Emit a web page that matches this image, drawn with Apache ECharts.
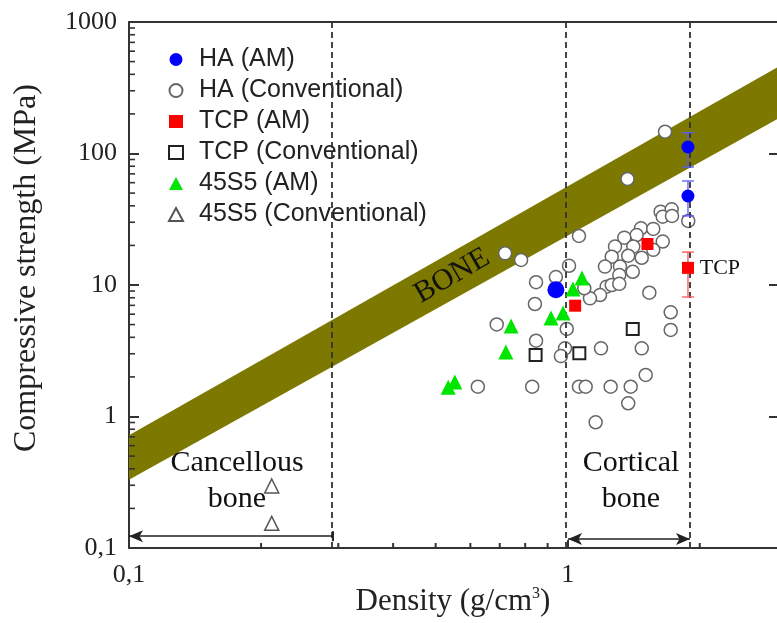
<!DOCTYPE html>
<html>
<head>
<meta charset="utf-8">
<script src="https://cdn.jsdelivr.net/npm/echarts@6/dist/echarts.min.js"></script>
<style>
  html, body { margin: 0; padding: 0; background: #fff; }
  #main { width: 777px; height: 623px; }
</style>
</head>
<body>
<div id="main"></div>
<script>
// axis ranges
var xMin = 0.1, xMax = 3, yMin = 0.1, yMax = 1000;
var tickMultipliers = [2, 3, 4, 5, 6, 7, 8, 9];
var xDecades = [0.1, 1];
var yDecades = [0.1, 1, 10, 100];

// data [density, strength]
var haAM = [[1.88, 112], [1.88, 47.5], [0.94, 9.2]];
var haAMErr = [[1.88, 78.9, 144], [1.88, 33.5, 61.8]];
var haConv = [
    [1.667, 146.5], [1.369, 64.0], [0.720, 17.4], [0.783, 15.5], [1.061, 23.6],
    [1.883, 30.7], [1.629, 36.1], [1.726, 37.6], [1.647, 33.1], [1.729, 33.5],
    [1.469, 27.0], [1.567, 26.7], [1.436, 24.0], [1.346, 22.9], [1.282, 19.6],
    [1.411, 19.6], [1.647, 21.4], [1.567, 18.5], [1.260, 16.4], [1.374, 16.7],
    [1.475, 16.1], [1.216, 13.8], [1.316, 13.8], [1.407, 12.6], [1.311, 11.9],
    [1.007, 14.0], [0.940, 11.5], [0.847, 10.5], [0.842, 7.17], [1.535, 8.74],
    [1.227, 9.71], [1.185, 8.39], [1.124, 7.92], [1.091, 9.44], [1.260, 10.0],
    [1.311, 10.2], [0.689, 5.01], [0.847, 3.77], [0.995, 4.63], [0.986, 3.30],
    [0.965, 2.88], [1.191, 3.30], [1.475, 3.30], [1.717, 6.20], [1.717, 4.55],
    [1.506, 2.07], [0.624, 1.685], [0.830, 1.685], [1.061, 1.685], [1.099, 1.685],
    [1.253, 1.685], [1.392, 1.685], [1.374, 1.26], [1.158, 0.904]
];
var tcpAM = [[1.04, 6.96], [1.52, 20.5], [1.88, 13.5]];
var tcpAMErr = [[1.88, 8.1, 17.8]];
var tcpConv = [[0.845, 2.94], [1.063, 3.03], [1.407, 4.63]];
var bgAM = [
    [1.078, 11.3], [1.028, 9.33], [0.976, 6.12], [0.916, 5.61],
    [0.743, 4.88], [0.723, 3.09], [0.553, 1.83], [0.534, 1.67]
];
var bgConv = [[0.2115, 0.296], [0.2115, 0.154]];

// bone band edges
var boneX = [0.1, 3];
var boneTop = [0.72, 450];
var boneBottom = [0.33, 182];

// density limits and region arrows
var regionLimits = [0.2917, 0.99, 1.9];
var arrowY = [0.123, 0.117];

// text annotations
var annoText = ['BONE', 'Cancellous\nbone', 'Cortical\nbone', 'TCP'];
var annoX = [0.545, 0.1763, 1.394, 2.0];
var annoY = [11.7, 0.32, 0.32, 13.4];

var serif = 'Liberation Serif';
var sans = 'Liberation Sans';

var xMinor = [], yMinor = [];
xDecades.forEach(function (d) {
    tickMultipliers.forEach(function (m) {
        if (d * m < xMax) xMinor.push([d * m, yMin]);
    });
});
yDecades.forEach(function (d) {
    tickMultipliers.forEach(function (m) { yMinor.push([xMin, d * m]); });
});

function fmt(v) { return String(+v.toPrecision(6)).replace('.', ','); }

function errRender(color) {
    return function (params, api) {
        var p1 = api.coord([api.value(0), api.value(1)]);
        var p2 = api.coord([api.value(0), api.value(2)]);
        var w = 6;
        var st = { stroke: color, lineWidth: 1.3 };
        return {
            type: 'group',
            children: [
                { type: 'line', shape: { x1: p1[0], y1: p1[1], x2: p2[0], y2: p2[1] }, style: st },
                { type: 'line', shape: { x1: p1[0] - w, y1: p1[1], x2: p1[0] + w, y2: p1[1] }, style: st },
                { type: 'line', shape: { x1: p2[0] - w, y1: p2[1], x2: p2[0] + w, y2: p2[1] }, style: st }
            ]
        };
    };
}

function logAxis(pos, extra) {
    var a = {
        type: 'log', logBase: 10, position: pos,
        axisLine: { show: true, lineStyle: { color: '#333', width: 2 } },
        axisTick: { show: false },
        axisLabel: { show: false },
        splitLine: { show: false }
    };
    for (var k in extra) a[k] = extra[k];
    return a;
}

var myChart = echarts.init(document.getElementById('main'));
var option = {
    animation: false,
    backgroundColor: '#fff',
    grid: { left: 129, right: 0, top: 22, bottom: 75, containLabel: false, outerBoundsMode: 'none' },
    legend: {
        orient: 'vertical',
        left: 163, top: 42,
        itemWidth: 14, itemHeight: 13, itemGap: 6,
        textStyle: { fontFamily: sans, fontSize: 25, lineHeight: 25, color: '#222', padding: [0, 0, 0, 11] },
        data: ['HA (AM)', 'HA (Conventional)', 'TCP (AM)', 'TCP (Conventional)', '45S5 (AM)', '45S5 (Conventional)']
    },
    xAxis: [
        logAxis('bottom', {
            min: xMin, max: xMax,
            axisTick: { show: true, inside: true, length: 8, lineStyle: { color: '#333', width: 2 } },
            axisLabel: { show: true, margin: 14, fontFamily: serif, fontSize: 26, color: '#222', formatter: fmt, showMaxLabel: false },
            name: 'Density (g/cm{sup|3})',
            nameLocation: 'middle', nameGap: 38, nameMoveOverlap: false,
            nameTextStyle: {
                fontFamily: serif, fontSize: 31, color: '#222',
                rich: { sup: { fontFamily: serif, fontSize: 16, color: '#222', padding: [0, 0, 15, 0] } }
            }
        }),
        logAxis('top', { min: xMin, max: xMax })
    ],
    yAxis: [
        logAxis('left', {
            min: yMin, max: yMax,
            axisTick: { show: true, inside: true, length: 10, lineStyle: { color: '#333', width: 2 } },
            axisLabel: { show: true, margin: 12, fontFamily: serif, fontSize: 26, color: '#222', formatter: fmt },
            name: 'Compressive strength (MPa)',
            nameLocation: 'middle', nameGap: 86, nameMoveOverlap: false,
            nameTextStyle: { fontFamily: serif, fontSize: 32, color: '#222', padding: [0, 0, 0, 34] }
        }),
        logAxis('right', {
            min: yMin, max: yMax,
            axisLine: { show: false },
            axisTick: { show: true, inside: true, length: 8, lineStyle: { color: '#333', width: 2 } }
        })
    ],
    series: [
        {
            // bone band
            type: 'custom', z: 1, silent: true,
            data: boneX.map(function (x, i) { return [x, boneTop[i], boneBottom[i]]; }),
            encode: { x: 0, y: [1, 2] },
            renderItem: function (params, api) {
                if (params.dataIndex !== 0) return;
                var pts = [];
                boneX.forEach(function (x, i) { pts.push(api.coord([x, boneTop[i]])); });
                for (var i = boneX.length - 1; i >= 0; i--) pts.push(api.coord([boneX[i], boneBottom[i]]));
                return { type: 'polygon', shape: { points: pts }, style: { fill: '#7d7900' } };
            }
        },
        {
            // minor ticks on x axis
            type: 'custom', z: 2, silent: true,
            data: xMinor,
            renderItem: function (params, api) {
                var p = api.coord([api.value(0), api.value(1)]);
                return { type: 'line', shape: { x1: p[0], y1: p[1], x2: p[0], y2: p[1] - 5 }, style: { stroke: '#333', lineWidth: 2 } };
            }
        },
        {
            // minor ticks on y axis
            type: 'custom', z: 2, silent: true,
            data: yMinor,
            renderItem: function (params, api) {
                var p = api.coord([api.value(0), api.value(1)]);
                return { type: 'line', shape: { x1: p[0], y1: p[1], x2: p[0] + 6, y2: p[1] }, style: { stroke: '#333', lineWidth: 1.6 } };
            }
        },
        {
            // density limits and region arrows
            type: 'scatter', z: 3, silent: true, data: [],
            markLine: {
                silent: true, animation: false,
                symbol: 'none',
                label: { show: false },
                lineStyle: { color: '#333', width: 1.8, type: [6, 4] },
                data: regionLimits.map(function (x) { return { xAxis: x }; }).concat([
                    [
                        { coord: [xMin, arrowY[0]], symbol: 'arrow', symbolSize: [9, 14], lineStyle: { type: 'solid', width: 1.6, color: '#222' } },
                        { coord: [regionLimits[0], arrowY[0]], symbol: 'rect', symbolSize: [10, 2] }
                    ],
                    [
                        { coord: [regionLimits[1] * 1.012, arrowY[1]], symbol: 'arrow', symbolSize: [9, 14], lineStyle: { type: 'solid', width: 1.6, color: '#222' } },
                        { coord: [regionLimits[2], arrowY[1]], symbol: 'arrow', symbolSize: [9, 14] }
                    ]
                ])
            }
        },
        {
            name: 'HA (Conventional)', type: 'scatter', z: 4,
            symbol: 'circle', symbolSize: 13,
            itemStyle: { color: '#fff', borderColor: '#666', borderWidth: 1.5, opacity: 1 },
            data: haConv
        },
        {
            name: '45S5 (Conventional)', type: 'scatter', z: 4,
            symbol: 'triangle', symbolSize: 14,
            itemStyle: { color: '#fff', borderColor: '#555', borderWidth: 1.5, opacity: 1 },
            data: bgConv
        },
        {
            name: 'TCP (Conventional)', type: 'scatter', z: 5,
            symbol: 'rect', symbolSize: 12,
            itemStyle: { color: '#fff', borderColor: '#222', borderWidth: 2, opacity: 1 },
            data: tcpConv
        },
        {
            name: '45S5 (AM)', type: 'scatter', z: 5,
            symbol: 'triangle', symbolSize: 15,
            itemStyle: { color: '#00e600', opacity: 1 },
            data: bgAM
        },
        {
            type: 'custom', z: 5, silent: true,
            data: tcpAMErr, encode: { x: 0, y: [1, 2] },
            renderItem: errRender('#ff5050')
        },
        {
            name: 'TCP (AM)', type: 'scatter', z: 6,
            symbol: 'rect', symbolSize: 12,
            itemStyle: { color: '#ff0000', opacity: 1 },
            data: tcpAM
        },
        {
            type: 'custom', z: 5, silent: true,
            data: haAMErr, encode: { x: 0, y: [1, 2] },
            renderItem: errRender('#5a5aff')
        },
        {
            name: 'HA (AM)', type: 'scatter', z: 6,
            symbol: 'circle',
            symbolSize: function (v, params) { return params.dataIndex === 2 ? 17 : 13; },
            itemStyle: { color: '#0000ff', opacity: 1 },
            data: haAM
        },
        {
            // text annotations
            type: 'custom', z: 7, silent: true,
            data: annoX.map(function (x, i) { return [x, annoY[i]]; }),
            renderItem: function (params, api) {
                var i = params.dataIndex;
                var p = api.coord([api.value(0), api.value(1)]);
                var isBone = i === 0, isTcp = i === 3;
                return {
                    type: 'text',
                    x: p[0], y: p[1],
                    rotation: isBone ? Math.PI / 6 : 0,
                    style: {
                        text: annoText[i],
                        fontFamily: serif,
                        fontSize: isTcp ? 22 : 30,
                        lineHeight: 36,
                        fill: '#111',
                        align: isTcp ? 'left' : 'center',
                        verticalAlign: 'middle'
                    }
                };
            }
        }
    ]
};
myChart.setOption(option);
</script>
</body>
</html>
